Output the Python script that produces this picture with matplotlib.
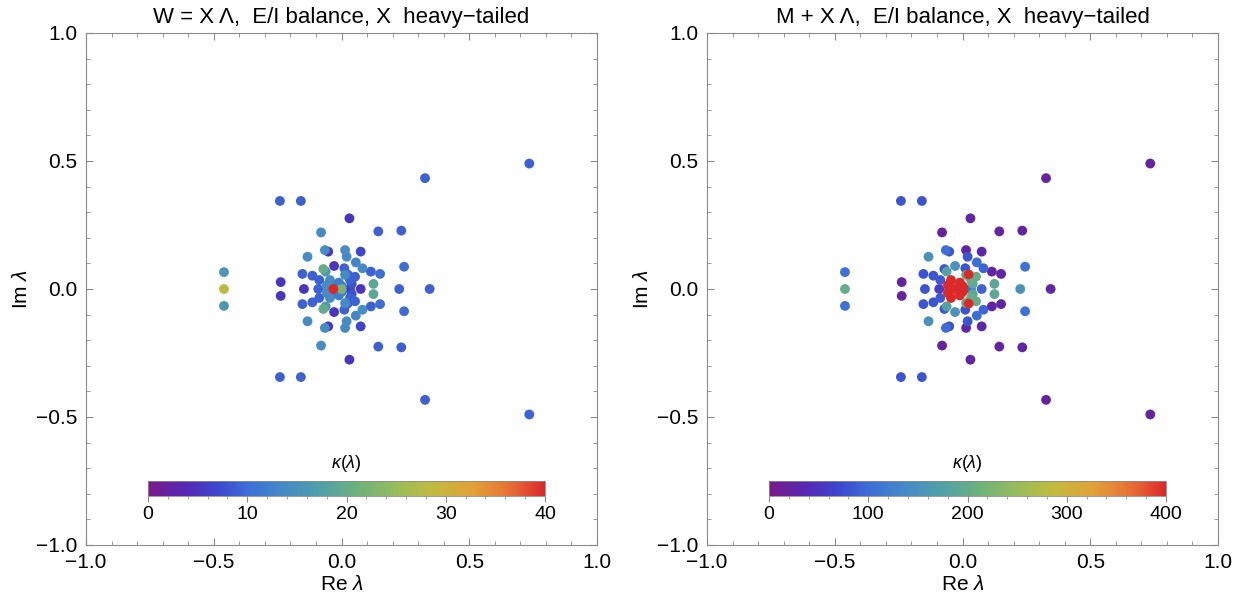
import numpy as np
import matplotlib
matplotlib.use("Agg")
import matplotlib.pyplot as plt
from matplotlib.colors import LinearSegmentedColormap, Normalize
from matplotlib.ticker import MultipleLocator

plt.rcParams['font.family'] = ['Liberation Sans', 'DejaVu Sans']
plt.rcParams['mathtext.fontset'] = 'custom'
plt.rcParams['mathtext.it'] = 'Liberation Sans:italic'
plt.rcParams['mathtext.rm'] = 'Liberation Sans'

# ---- data: eigenvalues in the upper half plane (conjugates mirrored) ----
upper_re = [0.735, 0.327, -0.241, -0.159, 0.031, -0.080, 0.144, 0.234, 0.245, -0.238,
            -0.460, -0.133, -0.065, -0.052, 0.014, 0.020, 0.075, -0.029, 0.011, 0.056,
            0.082, 0.115, 0.151, -0.153, -0.114, -0.087, -0.071, -0.062, 0.014, 0.053,
            -0.045, 0.033, 0.125, -0.010, 0.040, -0.057, 0.024, -0.025, 0.002]
upper_im = [0.490, 0.433, 0.344, 0.344, 0.276, 0.221, 0.225, 0.228, 0.087, 0.027,
            0.066, 0.126, 0.152, 0.146, 0.152, 0.126, 0.146, 0.090, 0.081, 0.104,
            0.081, 0.068, 0.059, 0.059, 0.052, 0.035, 0.078, 0.068, 0.055, 0.048,
            0.035, 0.035, 0.020, 0.025, 0.020, 0.015, 0.057, 0.015, 0.010]
upper_kappa_W = [9, 9, 9, 9, 5, 14, 9, 9, 10, 5,
                 16, 14, 14, 5, 14, 14, 7, 5, 9, 13,
                 14, 9, 10, 9, 9, 9, 20, 16, 14, 9,
                 14, 9, 19, 12, 8, 14, 9, 10, 12]
upper_kappa_M = [20, 20, 80, 80, 25, 20, 25, 25, 105, 20,
                 105, 150, 100, 80, 25, 80, 30, 150, 80, 100,
                 95, 25, 25, 80, 80, 85, 85, 180, 200, 200,
                 400, 200, 190, 400, 190, 400, 400, 330, 400]

real_re = [-0.460, -0.147, -0.091, -0.052, -0.032, 0.000, 0.033, 0.075, 0.226, 0.345]
real_kappa_W = [28, 5, 9, 9, 40, 22, 5, 5, 9, 9]
real_kappa_M = [200, 80, 60, 150, 400, 400, 100, 90, 150, 25]

panel_titles = ["W = X \u039b,  E/I balance, X  heavy\u2212tailed",
                "M + X \u039b,  E/I balance, X  heavy\u2212tailed"]
kappa_max = [40, 400]
cbar_ticks = [[0, 10, 20, 30, 40], [0, 100, 200, 300, 400]]
cbar_minor = [2, 20]

# ---- assemble conjugate pairs ----
re_all = np.concatenate([upper_re, upper_re, real_re])
im_all = np.concatenate([upper_im, -np.array(upper_im), np.zeros(len(real_re))])
kW = np.concatenate([upper_kappa_W, upper_kappa_W, real_kappa_W])
kM = np.concatenate([upper_kappa_M, upper_kappa_M, real_kappa_M])

rainbow = LinearSegmentedColormap.from_list("mma_rainbow", [
    (0.00, (0.47, 0.11, 0.53)),
    (0.09, (0.34, 0.16, 0.70)),
    (0.17, (0.24, 0.27, 0.80)),
    (0.25, (0.24, 0.43, 0.84)),
    (0.34, (0.27, 0.54, 0.78)),
    (0.44, (0.32, 0.63, 0.65)),
    (0.53, (0.43, 0.70, 0.48)),
    (0.63, (0.60, 0.74, 0.35)),
    (0.72, (0.76, 0.73, 0.25)),
    (0.82, (0.88, 0.63, 0.22)),
    (0.91, (0.90, 0.45, 0.21)),
    (1.00, (0.86, 0.16, 0.16)),
])

fig = plt.figure(figsize=(12.39, 6.02), dpi=100)
ax_lefts = [86 / 1239, 707 / 1239]
cb_lefts = [148 / 1239, 769 / 1239]
kappas = [kW, kM]
frame_col = '#8a8a8a'

def fmt(v, p):
    return f"{v:.1f}".replace('-', '\u2212')

for i in range(2):
    ax = fig.add_axes([ax_lefts[i], 1 - 545 / 602, 511 / 1239, 512 / 602])
    norm = Normalize(0, kappa_max[i])
    order = np.argsort(kappas[i])
    ax.scatter(re_all[order], im_all[order], c=kappas[i][order], cmap=rainbow, norm=norm,
               s=50, edgecolors='none', zorder=3)
    ax.set_xlim(-1, 1)
    ax.set_ylim(-1, 1)
    ax.xaxis.set_major_locator(MultipleLocator(0.5))
    ax.yaxis.set_major_locator(MultipleLocator(0.5))
    ax.xaxis.set_minor_locator(MultipleLocator(0.1))
    ax.yaxis.set_minor_locator(MultipleLocator(0.1))
    ax.tick_params(which='both', direction='in', top=True, right=True, color=frame_col,
                   labelsize=15)
    ax.tick_params(axis='x', which='major', pad=6)
    ax.tick_params(axis='y', which='major', pad=6)
    ax.tick_params(which='major', length=5, width=0.8)
    ax.tick_params(which='minor', length=3, width=0.6)
    ax.xaxis.set_major_formatter(matplotlib.ticker.FuncFormatter(fmt))
    ax.yaxis.set_major_formatter(matplotlib.ticker.FuncFormatter(fmt))
    for sp in ax.spines.values():
        sp.set_color(frame_col)
        sp.set_linewidth(0.8)
    ax.set_xlabel("Re $\\lambda$", fontsize=15, labelpad=2)
    ax.set_ylabel("Im $\\lambda$", fontsize=15, labelpad=4)
    ax.set_title(panel_titles[i], fontsize=16, pad=7)

    cax = fig.add_axes([cb_lefts[i], 1 - 496 / 602, 397 / 1239, 15 / 602])
    sm = matplotlib.cm.ScalarMappable(norm=norm, cmap=rainbow)
    cb = fig.colorbar(sm, cax=cax, orientation='horizontal')
    cb.set_ticks(cbar_ticks[i])
    cb.ax.xaxis.set_minor_locator(MultipleLocator(cbar_minor[i]))
    cb.ax.tick_params(which='both', direction='out', color=frame_col, labelsize=14, pad=3)
    cb.ax.tick_params(which='major', length=4)
    cb.ax.tick_params(which='minor', length=2)
    cb.outline.set_edgecolor(frame_col)
    cb.outline.set_linewidth(0.6)
    cb.ax.set_title("$\\kappa(\\lambda)$", fontsize=13, pad=9)

fig.savefig("out.png", dpi=100)
